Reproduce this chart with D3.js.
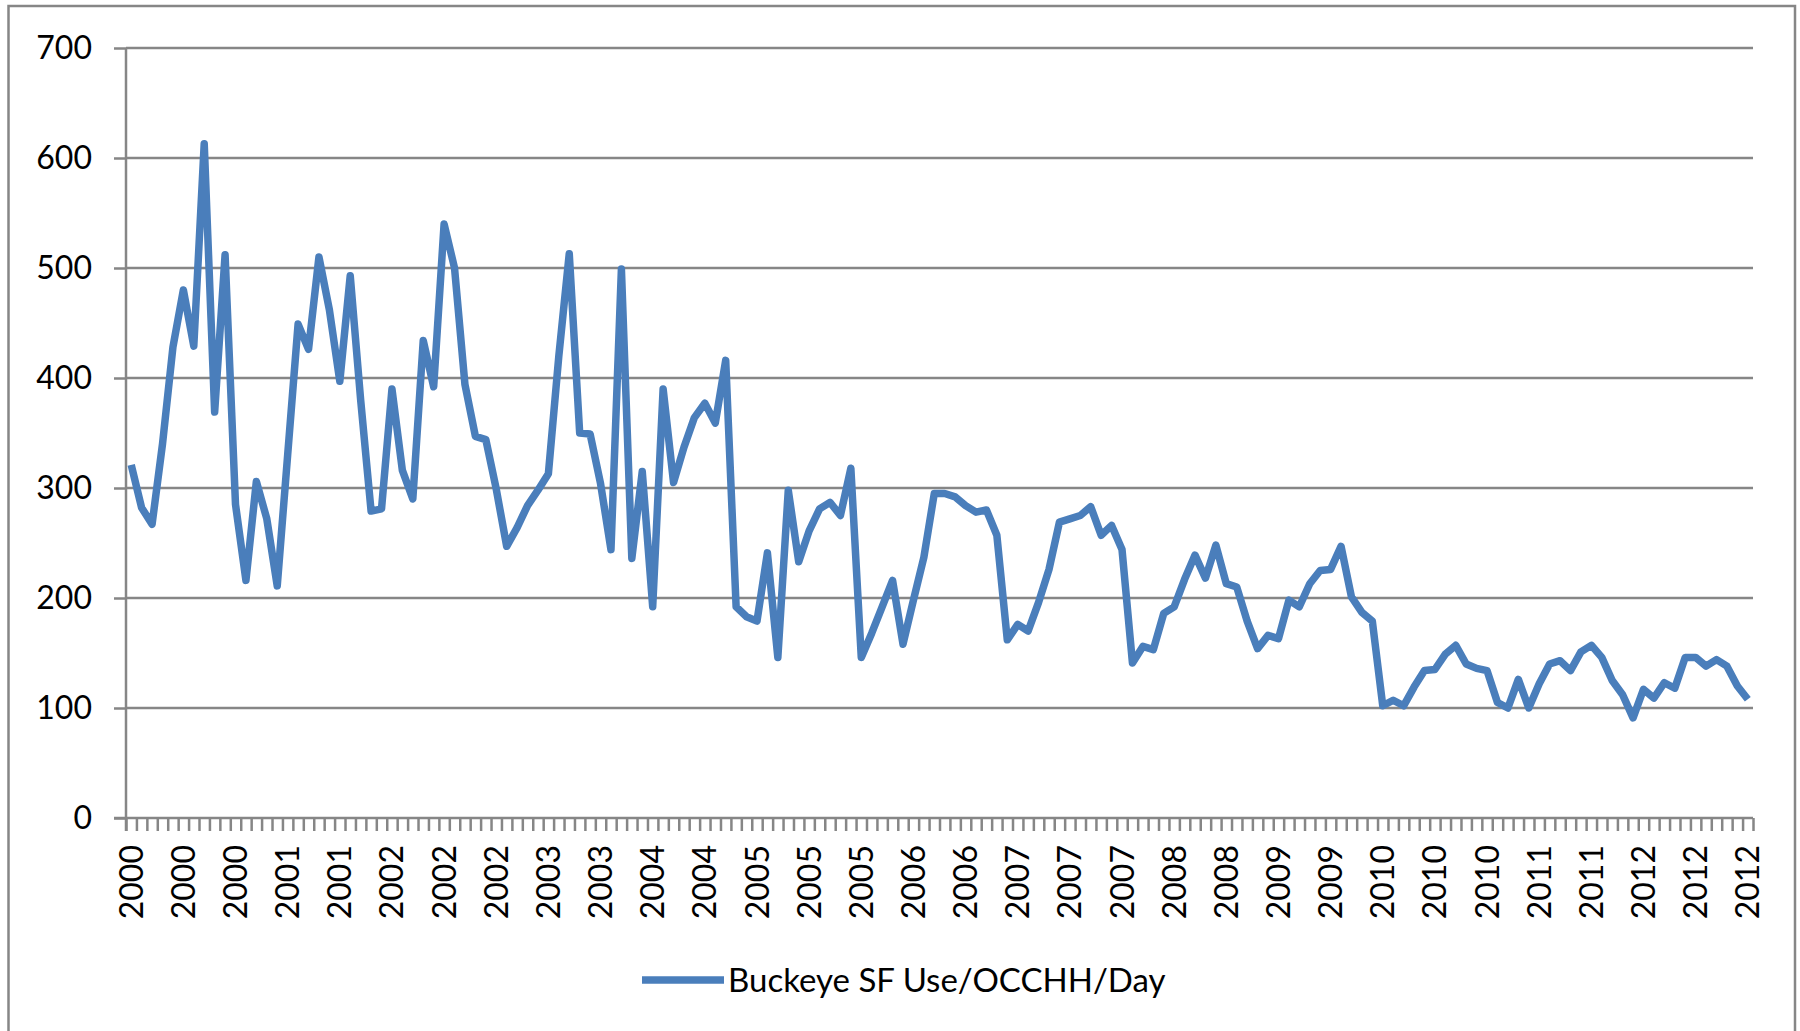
<!DOCTYPE html>
<html>
<head>
<meta charset="utf-8">
<script src="https://cdn.jsdelivr.net/npm/d3@7"></script>
<style>
  html, body { margin: 0; padding: 0; background: #fff; }
  svg { display: block; }
</style>
</head>
<body>
<svg id="chart" width="1800" height="1031"></svg>
<script>
// Monthly readings, January 2000 through December 2012
const years = [2000, 2001, 2002, 2003, 2004, 2005, 2006, 2007, 2008, 2009, 2010, 2011, 2012];
const monthsPerYear = 12;
const seriesName = "Buckeye SF Use/OCCHH/Day";

const usage = [
  321, 282, 267, 340, 428, 480, 429, 613, 369, 512, 285, 216,   // 2000
  306, 272, 211, 330, 449, 426, 510, 462, 397, 493, 380, 279,   // 2001
  281, 390, 316, 290, 434, 392, 540, 500, 394, 347, 344, 299,   // 2002
  247, 264, 284, 298, 313, 420, 513, 350, 349, 304, 244, 499,   // 2003
  236, 315, 192, 390, 305, 337, 364, 377, 359, 416, 192, 183,   // 2004
  179, 241, 146, 298, 233, 261, 281, 287, 275, 318, 146, 168,   // 2005
  192, 216, 158, 198, 237, 295, 295, 292, 284, 278, 280, 257,   // 2006
  162, 176, 170, 196, 226, 269, 272, 275, 283, 257, 266, 244,   // 2007
  141, 156, 153, 186, 192, 217, 239, 218, 248, 213, 210, 179,   // 2008
  154, 166, 163, 198, 192, 213, 225, 226, 247, 201, 187, 179,   // 2009
  102, 107, 102, 119, 134, 135, 149, 157, 140, 136, 134, 105,   // 2010
  100, 126, 100, 122, 140, 143, 134, 151, 157, 146, 125, 112,   // 2011
   91, 117, 109, 123, 118, 146, 146, 138, 144, 138, 120, 108    // 2012
];

const yTicks = [0, 100, 200, 300, 400, 500, 600, 700];
const labelEvery = 5;   // one category label per five months

// One category (the year) per monthly reading
const categories = years.flatMap(y => d3.range(monthsPerYear).map(() => String(y)));
const indices = d3.range(categories.length);

const W = 1800, H = 1031;
const plot = { left: 126, right: 1753, top: 48, bottom: 818 };
const GRAY = "#868686";
const BLUE = "#4a7ebb";
const FONT = "Lato, 'DejaVu Sans', sans-serif";

const svg = d3.select("#chart");
svg.append("rect").attr("width", W).attr("height", H).attr("fill", "#fff");

// chart area border
svg.append("rect")
  .attr("x", 8.5).attr("y", 6)
  .attr("width", 1795 - 8.5).attr("height", 1040)
  .attr("fill", "none").attr("stroke", GRAY).attr("stroke-width", 2.5);

const x = d3.scaleBand().domain(indices).range([plot.left, plot.right]).paddingInner(0).paddingOuter(0);
const xEdge = d3.scaleLinear().domain([0, categories.length]).range([plot.left, plot.right]);
const y = d3.scaleLinear().domain([0, 700]).range([plot.bottom, plot.top]);

// horizontal gridlines
svg.append("g")
  .selectAll("line")
  .data(yTicks.filter(t => t > 0))
  .join("line")
  .attr("x1", plot.left).attr("x2", plot.right)
  .attr("y1", d => y(d)).attr("y2", d => y(d))
  .attr("stroke", GRAY).attr("stroke-width", 2.5);

// value axis
const yAxis = svg.append("g")
  .attr("transform", `translate(${plot.left},0)`)
  .call(d3.axisLeft(y).tickValues(yTicks).tickSize(12).tickPadding(22).tickFormat(d3.format("d")));
yAxis.select(".domain").attr("stroke", GRAY).attr("stroke-width", 2.5)
  .attr("d", `M0,${plot.top}V${plot.bottom + 13}`);
yAxis.selectAll(".tick line").attr("stroke", GRAY).attr("stroke-width", 2.5);
yAxis.selectAll(".tick text")
  .attr("fill", "#000").style("font-family", FONT).style("font-size", "32px");

// category axis: tick marks on month boundaries
const xTicks = svg.append("g")
  .attr("transform", `translate(0,${plot.bottom})`)
  .call(d3.axisBottom(xEdge).tickValues(d3.range(categories.length + 1)).tickSize(13).tickFormat(""));
xTicks.select(".domain").attr("stroke", GRAY).attr("stroke-width", 2.5)
  .attr("d", `M${plot.left - 12},0H${plot.right}`);
xTicks.selectAll(".tick line").attr("stroke", GRAY).attr("stroke-width", 2.5);

// category labels, rotated
const xLabels = svg.append("g")
  .attr("transform", `translate(0,${plot.bottom})`)
  .call(d3.axisBottom(x)
    .tickValues(indices.filter(i => i % labelEvery === 0))
    .tickSize(0)
    .tickFormat(i => categories[i]));
xLabels.select(".domain").remove();
xLabels.selectAll(".tick text")
  .attr("transform", "rotate(-90)")
  .attr("text-anchor", "end")
  .attr("x", -27).attr("y", 0).attr("dy", "0.36em")
  .attr("fill", "#000").style("font-family", FONT).style("font-size", "32px");

// series line
const line = d3.line()
  .x((d, i) => x(i) + x.bandwidth() / 2)
  .y(d => y(d));
svg.append("path")
  .datum(usage)
  .attr("d", line)
  .attr("fill", "none")
  .attr("stroke", BLUE)
  .attr("stroke-width", 7.5)
  .attr("stroke-linejoin", "round")
  .attr("stroke-linecap", "butt");

// legend
const legend = svg.append("g").attr("transform", "translate(642,980)");
legend.append("line")
  .attr("x1", 0).attr("x2", 82).attr("y1", 0).attr("y2", 0)
  .attr("stroke", BLUE).attr("stroke-width", 7.5);
legend.append("text")
  .attr("x", 86).attr("y", 0).attr("dy", "0.36em")
  .attr("fill", "#000").style("font-family", FONT).style("font-size", "33px")
  .text(seriesName);
</script>
</body>
</html>
